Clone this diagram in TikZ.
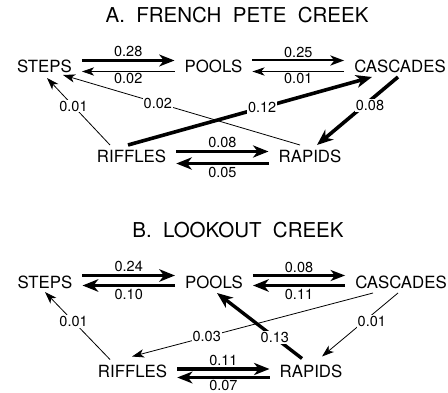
\documentclass[tikz,border=0pt]{standalone}
\usepackage{fontspec}
\setmainfont{TeX Gyre Heros}
\usetikzlibrary{arrows.meta}
\begin{document}
\begin{tikzpicture}[x=1pt,y=-1pt,
    hab/.style={font=\fontsize{16.8}{18}\selectfont,inner xsep=10pt,inner ysep=6pt},
    ttl/.style={font=\fontsize{20.5}{22}\selectfont},
    val/.style={font=\fontsize{14.5}{16}\selectfont,inner sep=1.8pt},
    cut/.style={val,fill=white,inner sep=1pt},
    flow/.style={-{Stealth[length=11pt 1.4,width=7pt 1.6,inset=3pt 0.5]}},
    thn/.style={flow,line width=0.8pt},
    mid/.style={flow,line width=2.2pt},
    thk/.style={flow,line width=3.4pt}]
  \useasboundingbox (0,0) rectangle (448,393);
  % A. French Pete Creek
  \node[ttl] (titleA) at (237,15) {A.\ \ FRENCH\ \ PETE\ \ CREEK};
  \node[hab] (stepsA) at (44.5,66) {STEPS};
  \node[hab] (poolsA) at (213.5,66) {POOLS};
  \node[hab] (casA) at (400,66) {CASCADES};
  \node[hab] (rifA) at (131.5,156.5) {RIFFLES};
  \node[hab] (rapA) at (310,156.5) {RAPIDS};
  \draw[thk,line width=3pt] ([yshift=5.5pt]stepsA.east) -- ([yshift=5.5pt]poolsA.west) node[val,midway,above]{0.28};
  \draw[thn] ([yshift=-5.5pt]poolsA.west) -- ([yshift=-5.5pt]stepsA.east) node[val,midway,below]{0.02};
  \draw[mid,line width=2pt] ([yshift=5.5pt]poolsA.east) -- ([yshift=5.5pt]casA.west) node[val,midway,above]{0.25};
  \draw[thn] ([yshift=-5.5pt]casA.west) -- ([yshift=-5.5pt]poolsA.east) node[val,midway,below]{0.01};
  \draw[thk,line width=3.2pt] ([yshift=5pt]rifA.east) -- ([yshift=5pt]rapA.west) node[val,midway,above]{0.08};
  \draw[thk,line width=3.2pt] ([yshift=-7pt]rapA.west) -- ([yshift=-7pt]rifA.east) node[val,midway,below]{0.05};
  \draw[thn] ([shift={(-21.5,-11.5)}]rifA.center) -- ([shift={(2.5,12)}]stepsA.center) node[cut,pos=0.58]{0.01};
  \draw[thn] ([shift={(-10,-11.5)}]rapA.center) -- ([shift={(18.5,9)}]stepsA.center) node[cut,pos=0.6]{0.02};
  \draw[thk,line width=3.6pt] ([shift={(-3.5,-11.5)}]rifA.center) -- ([shift={(-28,11)}]casA.center) node[cut,pos=0.55]{0.12};
  \draw[thk,line width=3.6pt] ([shift={(-2,11)}]casA.center) -- ([shift={(7,-11.5)}]rapA.center) node[cut,pos=0.42,xshift=6pt]{0.08};
  % B. Lookout Creek
  \node[ttl] (titleB) at (238,230.5) {B.\ \ LOOKOUT\ \ CREEK};
  \node[hab] (stepsB) at (45,282) {STEPS};
  \node[hab] (poolsB) at (214,282) {POOLS};
  \node[hab] (casB) at (401,282) {CASCADES};
  \node[hab] (rifB) at (132.5,371.5) {RIFFLES};
  \node[hab] (rapB) at (311,371.5) {RAPIDS};
  \draw[thk] ([yshift=6.5pt]stepsB.east) -- ([yshift=6.5pt]poolsB.west) node[val,midway,above]{0.24};
  \draw[thk] ([yshift=-3.5pt]poolsB.west) -- ([yshift=-3.5pt]stepsB.east) node[val,midway,below]{0.10};
  \draw[mid,line width=2.5pt] ([yshift=6.5pt]poolsB.east) -- ([yshift=6.5pt]casB.west) node[val,midway,above]{0.08};
  \draw[thk] ([yshift=-3.5pt]casB.west) -- ([yshift=-3.5pt]poolsB.east) node[val,midway,below]{0.11};
  \draw[thk,line width=3.2pt] ([yshift=2.5pt]rifB.east) -- ([yshift=2.5pt]rapB.west) node[val,midway,above]{0.11};
  \draw[thk,line width=3pt] ([yshift=-6pt]rapB.west) -- ([yshift=-6pt]rifB.east) node[val,midway,below,inner sep=1.2pt]{0.07};
  \draw[thn] ([shift={(-22.5,-12)}]rifB.center) -- ([shift={(0,10)}]stepsB.center) node[cut,pos=0.56]{0.01};
  \draw[thn] ([shift={(-28,11)}]casB.center) -- ([shift={(-0.5,-15)}]rifB.center) node[cut,pos=0.69]{0.03};
  \draw[thn] ([shift={(-3,11)}]casB.center) -- ([shift={(11,-15)}]rapB.center) node[cut,pos=0.45,xshift=8pt]{0.01};
  \draw[thk] ([shift={(-9,-13)}]rapB.center) -- ([shift={(3,11)}]poolsB.center) node[cut,pos=0.32]{0.13};
\end{tikzpicture}
\end{document}
